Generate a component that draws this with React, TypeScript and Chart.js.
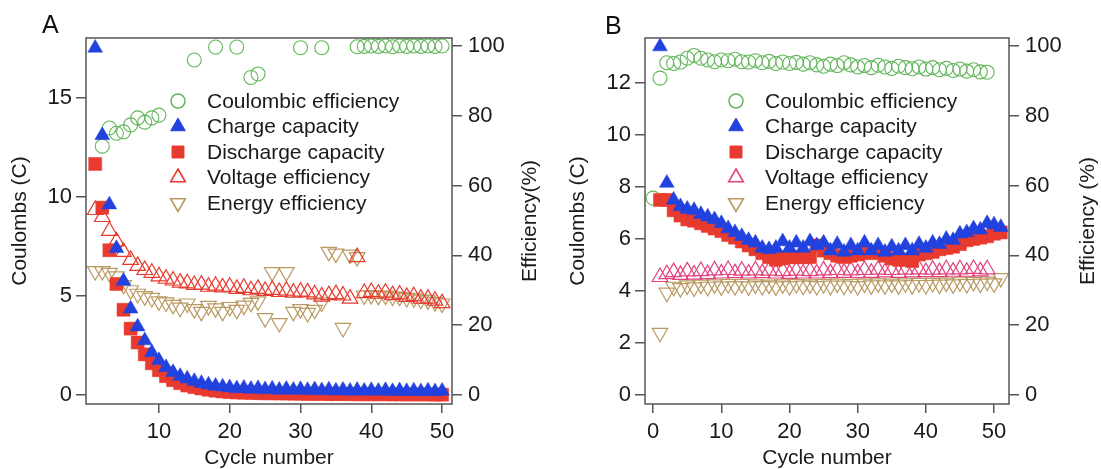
import React, { useEffect, useRef } from 'react';
import { Chart, registerables } from 'chart.js';

Chart.register(...registerables);

const FONT = '"Liberation Sans", Arial, Helvetica, sans-serif';
const TEXT = '#1a1a1a';
const AXIS = '#555555';
const GREEN = '#62b65a';
const BLUE = '#2142de';
const RED = '#e83a2e';
const PINK = '#e2437f';
const TAN = '#b99a62';

const LEGEND_LABELS = ['Coulombic efficiency', 'Charge capacity', 'Discharge capacity', 'Voltage efficiency', 'Energy efficiency'];
const EFF_TICKS = [0, 20, 40, 60, 80, 100];

// ---------------- Panel A ----------------
const A_CYCLES = [1, 2, 3, 4, 5, 6, 7, 8, 9, 10, 11, 12, 13, 14, 15, 16, 17, 18, 19, 20, 21, 22, 23, 24, 25, 26, 27, 28, 29, 30, 31, 32, 33, 34, 35, 36, 37, 38, 39, 40, 41, 42, 43, 44, 45, 46, 47, 48, 49, 50];
const A_COULOMBIC = [null, 71.3, 76.5, 75, 75.4, 77.4, 79.4, 78.2, 79.4, 80.2,
  null, null, null, null, 96, null, null, 99.7, null, null,
  99.7, null, 91, 92, null, null, null, null, null, 99.5,
  null, null, 99.5, null, null, null, null, 99.8, 99.9, 100,
  99.9, 100, 99.8, 100, 99.9, 100, 99.9, 100, 99.9, 100];
const A_CHARGE = [17.5, 13.1, 9.6, 7.4, 5.75, 4.35, 3.45, 2.75, 2.15, 1.75,
  1.4, 1.15, 0.95, 0.82, 0.7, 0.6, 0.52, 0.46, 0.42, 0.38,
  0.33, 0.36, 0.3, 0.34, 0.28, 0.32, 0.26, 0.3, 0.25, 0.29,
  0.24, 0.28, 0.23, 0.27, 0.22, 0.26, 0.21, 0.25, 0.21, 0.24,
  0.2, 0.24, 0.19, 0.23, 0.19, 0.22, 0.18, 0.22, 0.18, 0.21];
const A_DISCHARGE = [11.65, 9.45, 7.3, 5.6, 4.3, 3.35, 2.65, 2.05, 1.6, 1.25,
  0.95, 0.75, 0.6, 0.48, 0.4, 0.33, 0.27, 0.22, 0.18, 0.15,
  0.13, 0.12, 0.11, 0.1, 0.09, 0.09, 0.08, 0.08, 0.07, 0.07,
  0.06, 0.06, 0.06, 0.05, 0.05, 0.05, 0.05, 0.04, 0.04, 0.04,
  0.04, 0.04, 0.03, 0.03, 0.03, 0.03, 0.03, 0.03, 0.02, 0.02];
const A_VOLTAGE = [53, 51, 47, 44, 41, 38.7, 37, 35.8, 35, 34,
  33.3, 32.8, 32.2, 32, 31.5, 31.6, 31, 31.3, 30.8, 31,
  30.4, 30.7, 30, 30.4, 29.8, 30.1, 29.5, 29.9, 29.3, 29.6,
  29.4, 28.8, 28.2, 28.6, 28.9, 28.5, 27.6, 39.5, 29.2, 29.5,
  29, 29.3, 28.6, 28.8, 28.1, 28.3, 27.6, 27.6, 27, 26.3];
const A_ENERGY = [35.5, 35.5, 35, 34, 31.5, 30, 29, 28.3, 27.8, 26.8,
  26.5, 25.8, 25, 26.2, 24.6, 23.8, 25.5, 24.8, 23.8, 25.2,
  24.4, 25.6, 26.4, 26.8, 22, 35.2, 20.6, 35.2, 23.8, 24.6,
  23.5, 24.4, 26.5, 41, 40.5, 19.2, 40.2, 39.5, 28.5, 28.6,
  28.4, 28.5, 28.2, 28.1, 27.8, 27.7, 27.3, 27.1, 26.6, 26.2];
const A_X_TICKS = [10, 20, 30, 40, 50];
const A_Y_TICKS = [0, 5, 10, 15];

// ---------------- Panel B ----------------
const B_CYCLES = [1, 2, 3, 4, 5, 6, 7, 8, 9, 10, 11, 12, 13, 14, 15, 16, 17, 18, 19, 20, 21, 22, 23, 24, 25, 26, 27, 28, 29, 30, 31, 32, 33, 34, 35, 36, 37, 38, 39, 40, 41, 42, 43, 44, 45, 46, 47, 48, 49, 50, 51];
const B_CE_CYCLES = [0, 1, 2, 3, 4, 5, 6, 7, 8, 9, 10, 11, 12, 13, 14, 15, 16, 17, 18, 19, 20, 21, 22, 23, 24, 25, 26, 27, 28, 29, 30, 31, 32, 33, 34, 35, 36, 37, 38, 39, 40, 41, 42, 43, 44, 45, 46, 47, 48, 49];
const B_VOLT_CYCLES = [1, 2, 3, 4, 5, 6, 7, 8, 9, 10, 11, 12, 13, 14, 15, 16, 17, 18, 19, 20, 21, 22, 23, 24, 25, 26, 27, 28, 29, 30, 31, 32, 33, 34, 35, 36, 37, 38, 39, 40, 41, 42, 43, 44, 45, 46, 47, 48, 49];
const B_COULOMBIC = [56.4, 90.8, 95.2, 95, 95.4, 96.5, 97.3, 96.5, 96, 95.5,
  96, 95.8, 96.2, 95.5, 95.4, 95.8, 95.2, 95.6, 95, 95.4,
  95, 95.3, 94.8, 95.2, 94.6, 94.2, 94.8, 94.4, 95.2, 94.6,
  94, 94.4, 93.8, 94.5, 94, 93.6, 94.2, 93.8, 93.5, 94,
  93.4, 93.8, 93.2, 93.6, 93, 93.4, 92.8, 93.2, 92.6, 92.5];
const B_CHARGE = [13.4, 8.15, 7.5, 7.25, 7.15, 7.1, 6.95, 6.85, 6.75, 6.6,
  6.4, 6.25, 6.1, 5.95, 5.85, 5.65, 5.6, 5.65, 5.9, 5.65,
  5.85, 5.65, 5.9, 5.75, 5.85, 5.55, 5.8, 5.5, 5.75, 5.55,
  5.85, 5.55, 5.75, 5.5, 5.7, 5.55, 5.75, 5.55, 5.8, 5.65,
  5.85, 5.8, 6.0, 5.95, 6.2, 6.25, 6.4, 6.35, 6.6, 6.55,
  6.45];
const B_DISCHARGE = [7.5, 7.5, 7.1, 6.9, 6.75, 6.7, 6.6, 6.5, 6.4, 6.3,
  6.15, 6.05, 5.9, 5.75, 5.6, 5.45, 5.3, 5.2, 5.25, 5.3,
  5.3, 5.3, 5.3, 5.75, 5.55, 5.45, 5.35, 5.3, 5.35, 5.4,
  5.45, 5.5, 5.45, 5.35, 5.25, 5.2, 5.2, 5.15, 5.4, 5.45,
  5.5, 5.6, 5.65, 5.7, 5.8, 5.95, 6.0, 6.05, 6.1, 6.2,
  6.25];
const B_VOLTAGE = [33.8, 34.6, 35.2, 34.4, 35.4, 34.5, 35.5, 34.6, 35.7, 34.8,
  35.8, 34.9, 35.6, 34.8, 35.7, 34.9, 35.6, 34.8, 35.5, 34.7,
  35.6, 34.8, 35.5, 34.8, 35.7, 34.9, 35.8, 35.0, 35.7, 34.9,
  35.8, 35.0, 35.9, 35.1, 35.8, 35.0, 35.9, 35.1, 36.0, 35.2,
  35.9, 35.2, 36.0, 35.3, 36.0, 35.3, 36.1, 35.4, 36.0];
const B_ENERGY = [17.8, 29.3, 31, 30.6, 31.4, 30.8, 31.6, 31, 31.7, 31.1,
  31.8, 31.2, 31.8, 31.1, 31.7, 31.2, 31.6, 31.1, 31.7, 31.2,
  31.8, 31.3, 31.7, 31.2, 31.8, 31.3, 31.9, 31.3, 31.8, 31.2,
  31.9, 31.4, 32.0, 31.4, 31.9, 31.4, 32.0, 31.5, 32.1, 31.5,
  32.1, 31.6, 32.2, 31.7, 32.3, 31.8, 32.4, 31.9, 32.5, 32.0,
  33.5];
const B_X_TICKS = [0, 10, 20, 30, 40, 50];
const B_Y_TICKS = [0, 2, 4, 6, 8, 10, 12];

const H = 469;

type Spec = {
  offsetX: number;
  width: number;
  area: { left: number; right: number; top: number; bottom: number };
  xRange: [number, number];
  yRange: [number, number];
  effRange: [number, number];
  xTicks: number[];
  yTicks: number[];
  ceX: number[]; ce: (number | null)[];
  x: number[]; charge: number[]; discharge: number[];
  voltX: number[]; voltage: number[];
  energyX: number[]; energy: number[];
  voltColor: string;
  leftTitleX: number;
  rightTitle: string;
  rightTitleX: number;
  legendX: number;
  legendTextX: number;
};

const PANEL_A: Spec = {
  offsetX: 0, width: 560,
  area: { left: 86, right: 452, top: 38, bottom: 404 },
  xRange: [-0.3, 51.4], yRange: [-0.45, 18.0], effRange: [-2.6, 102.3],
  xTicks: A_X_TICKS, yTicks: A_Y_TICKS,
  ceX: A_CYCLES, ce: A_COULOMBIC,
  x: A_CYCLES, charge: A_CHARGE, discharge: A_DISCHARGE,
  voltX: A_CYCLES, voltage: A_VOLTAGE,
  energyX: A_CYCLES, energy: A_ENERGY,
  voltColor: RED,
  leftTitleX: 20, rightTitle: 'Efficiency(%)', rightTitleX: 530,
  legendX: 178, legendTextX: 207,
};

const PANEL_B: Spec = {
  offsetX: 560, width: 541,
  area: { left: 85, right: 449, top: 38, bottom: 404 },
  xRange: [-1.2, 52.2], yRange: [-0.35, 13.73], effRange: [-2.6, 102.3],
  xTicks: B_X_TICKS, yTicks: B_Y_TICKS,
  ceX: B_CE_CYCLES, ce: B_COULOMBIC,
  x: B_CYCLES, charge: B_CHARGE, discharge: B_DISCHARGE,
  voltX: B_VOLT_CYCLES, voltage: B_VOLTAGE,
  energyX: B_CYCLES, energy: B_ENERGY,
  voltColor: PINK,
  leftTitleX: 18, rightTitle: 'Efficiency (%)', rightTitleX: 528,
  legendX: 176, legendTextX: 205,
};

const LEGEND_TOP = 101;
const LEGEND_STEP = 25.5;

function drawMarker(ctx: CanvasRenderingContext2D, style: string, x: number, y: number, r: number, rot: number, fill: string | null, stroke: string | null, lw: number) {
  ctx.beginPath();
  if (style === 'circle') {
    ctx.arc(x, y, r, 0, Math.PI * 2);
  } else if (style === 'rect') {
    const s = r * Math.SQRT1_2;
    ctx.rect(x - s, y - s, 2 * s, 2 * s);
  } else {
    let rad = (rot * Math.PI) / 180;
    for (let k = 0; k < 3; k++) {
      const px = x + Math.sin(rad) * r;
      const py = y - Math.cos(rad) * r;
      if (k === 0) ctx.moveTo(px, py); else ctx.lineTo(px, py);
      rad += (2 * Math.PI) / 3;
    }
    ctx.closePath();
  }
  if (fill) { ctx.fillStyle = fill; ctx.fill(); }
  if (stroke) { ctx.strokeStyle = stroke; ctx.lineWidth = lw; ctx.stroke(); }
}

function framePlugin(s: Spec) {
  return {
    id: 'frameLegend',
    afterDraw(chart: any) {
      const ctx: CanvasRenderingContext2D = chart.ctx;
      const a = chart.chartArea;
      ctx.save();
      ctx.strokeStyle = AXIS;
      ctx.lineWidth = 1.5;
      ctx.strokeRect(a.left, a.top, a.right - a.left, a.bottom - a.top);

      // legend
      ctx.font = `21px ${FONT}`;
      ctx.textBaseline = 'middle';
      ctx.textAlign = 'left';
      chart.data.datasets.forEach((ds: any, i: number) => {
        const y = LEGEND_TOP + i * LEGEND_STEP;
        const filled = ds.pointBackgroundColor !== 'rgba(0,0,0,0)';
        const r = Math.min(ds.pointRadius, 8.5);
        drawMarker(ctx, ds.pointStyle, s.legendX, y, r, ds.pointRotation || 0,
          filled ? ds.pointBackgroundColor : null, ds.pointBorderColor, ds.pointBorderWidth + 0.4);
        ctx.fillStyle = TEXT;
        ctx.fillText(ds.label, s.legendTextX, y + 1);
      });

      // right axis title (reads bottom to top)
      ctx.translate(s.rightTitleX, (a.top + a.bottom) / 2);
      ctx.rotate(-Math.PI / 2);
      ctx.textAlign = 'center';
      ctx.fillStyle = TEXT;
      ctx.fillText(s.rightTitle, 0, 0);
      ctx.restore();
    },
  };
}

function buildConfig(s: Spec): any {
  const pts = (xs: number[], ys: (number | null)[]) => xs.map((x, i) => ({ x, y: ys[i] }));
  const tickFont = { family: FONT, size: 22 };
  const grid = { drawOnChartArea: false, drawTicks: true, color: AXIS, tickColor: AXIS, lineWidth: 1.5 };
  const NONE = 'rgba(0,0,0,0)';
  return {
    type: 'scatter',
    data: {
      datasets: [
        { label: LEGEND_LABELS[0], order: 5, data: pts(s.ceX, s.ce), yAxisID: 'y1', pointStyle: 'circle', pointRadius: 7, pointBackgroundColor: NONE, pointBorderColor: GREEN, pointBorderWidth: 1.1 },
        { label: LEGEND_LABELS[1], order: 1, data: pts(s.x, s.charge), yAxisID: 'y', pointStyle: 'triangle', pointRadius: 8.5, pointBackgroundColor: BLUE, pointBorderColor: BLUE, pointBorderWidth: 0.5 },
        { label: LEGEND_LABELS[2], order: 2, data: pts(s.x, s.discharge), yAxisID: 'y', pointStyle: 'rect', pointRadius: 9.2, pointBackgroundColor: RED, pointBorderColor: RED, pointBorderWidth: 0.5 },
        { label: LEGEND_LABELS[3], order: 3, data: pts(s.voltX, s.voltage), yAxisID: 'y1', pointStyle: 'triangle', pointRadius: 9, pointBackgroundColor: NONE, pointBorderColor: s.voltColor, pointBorderWidth: 1.2 },
        { label: LEGEND_LABELS[4], order: 4, data: pts(s.energyX, s.energy), yAxisID: 'y1', pointStyle: 'triangle', pointRotation: 180, pointRadius: 9, pointBackgroundColor: NONE, pointBorderColor: TAN, pointBorderWidth: 1.2 },
      ],
    },
    options: {
      responsive: false,
      animation: false,
      events: [],
      layout: { padding: { top: s.area.top, left: 0, right: 0, bottom: 0 } },
      plugins: { legend: { display: false }, tooltip: { enabled: false } },
      scales: {
        x: {
          type: 'linear', position: 'bottom', min: s.xRange[0], max: s.xRange[1],
          afterBuildTicks: (sc: any) => { sc.ticks = s.xTicks.map((v) => ({ value: v })); },
          afterFit: (sc: any) => { sc.height = H - s.area.bottom; },
          grid: { ...grid, tickLength: 9 },
          border: { display: false },
          ticks: { color: TEXT, font: tickFont, padding: 6, maxRotation: 0, autoSkip: false },
          title: { display: true, text: 'Cycle number', color: TEXT, font: { family: FONT, size: 21, lineHeight: 1 }, padding: { top: 0, bottom: 0 } },
        },
        y: {
          type: 'linear', position: 'left', min: s.yRange[0], max: s.yRange[1],
          afterBuildTicks: (sc: any) => { sc.ticks = s.yTicks.map((v) => ({ value: v })); },
          afterFit: (sc: any) => { sc.width = s.area.left; },
          grid: { ...grid, tickLength: 10 },
          border: { display: false },
          ticks: { color: TEXT, font: tickFont, padding: 4 },
          title: { display: true, text: 'Coulombs (C)', color: TEXT, font: { family: FONT, size: 21, lineHeight: 1 }, padding: { top: s.leftTitleX - 10.5, bottom: 0 } },
        },
        y1: {
          type: 'linear', position: 'right', min: s.effRange[0], max: s.effRange[1],
          afterBuildTicks: (sc: any) => { sc.ticks = EFF_TICKS.map((v) => ({ value: v })); },
          afterFit: (sc: any) => { sc.width = s.width - s.area.right; },
          grid: { ...grid, tickLength: 10 },
          border: { display: false },
          ticks: { color: TEXT, font: tickFont, padding: 6 },
        },
      },
    },
    plugins: [framePlugin(s)],
  };
}

function Panel({ spec }: { spec: Spec }) {
  const ref = useRef<HTMLCanvasElement>(null);
  useEffect(() => {
    if (!ref.current) return;
    const chart = new Chart(ref.current, buildConfig(spec));
    return () => chart.destroy();
  }, [spec]);
  return (
    <canvas
      ref={ref}
      width={spec.width}
      height={H}
      style={{ position: 'absolute', left: spec.offsetX, top: 0, width: spec.width, height: H }}
    />
  );
}

export default function App() {
  const letter: React.CSSProperties = { position: 'absolute', fontFamily: FONT, fontSize: 25, lineHeight: 1, color: '#111' };
  return (
    <div style={{ position: 'fixed', left: 0, top: 0, width: 1101, height: H, background: '#ffffff', overflow: 'hidden' }}>
      <Panel spec={PANEL_A} />
      <Panel spec={PANEL_B} />
      <div style={{ ...letter, left: 42, top: 12 }}>A</div>
      <div style={{ ...letter, left: 605, top: 13 }}>B</div>
    </div>
  );
}
